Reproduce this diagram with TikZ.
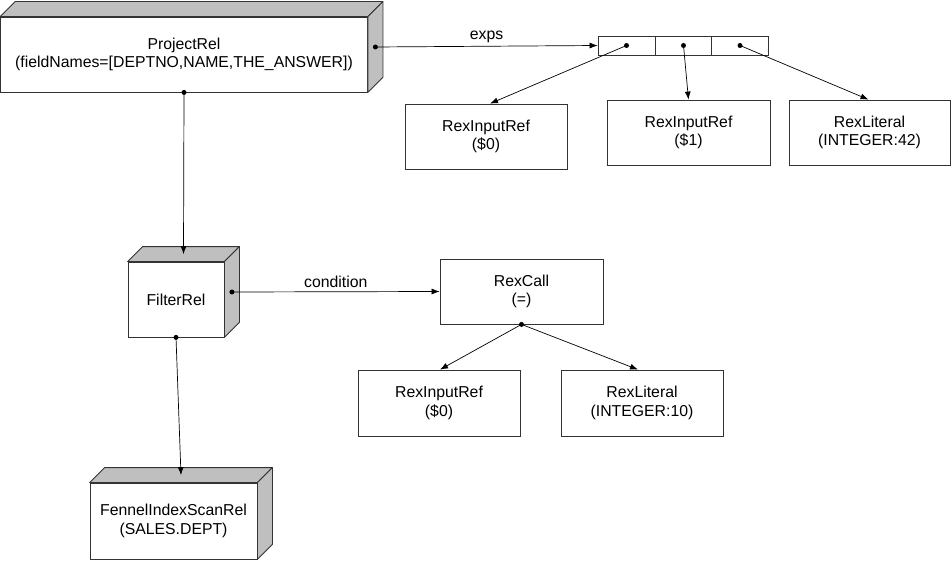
\documentclass[tikz,border=0pt]{standalone}
\usepackage{fontspec}
\setmainfont{Liberation Sans}
\usetikzlibrary{calc,arrows.meta}
\tikzset{
  front/.style={draw=black!80, fill=white, line width=0.8pt, align=center, inner sep=0pt, font=\fontsize{15.8}{18.5}\selectfont},
  plain/.style={draw=black!80, fill=white, line width=0.8pt, align=center, inner sep=0pt, font=\fontsize{15.8}{18.5}\selectfont},
  cell/.style={draw=black!80, fill=white, line width=0.8pt, minimum width=57pt, minimum height=19pt, inner sep=0pt},
  face/.style={draw=black!80, fill=black!25, line width=0.8pt, line join=round},
  conn/.style={draw=black, line width=0.7pt, -{Latex[length=8pt,width=6pt]}},
  dot/.style={circle, fill=black, inner sep=0pt, minimum size=5pt},
  lbl/.style={font=\fontsize{15.8}{18.5}\selectfont}
}
\newcommand{\cubefaces}[2]{%
  \path[face] (#1.north west) -- ++(#2,-#2) -- ($(#1.north east)+(#2,-#2)$) -- (#1.north east) -- cycle;
  \path[face] (#1.north east) -- ++(#2,-#2) -- ($(#1.south east)+(#2,-#2)$) -- (#1.south east) -- cycle;
}
\begin{document}
\begin{tikzpicture}[x=1pt,y=-1pt]
\useasboundingbox (0,0) rectangle (952,561);
% 3D boxes
\node[front, minimum width=367pt, minimum height=75pt] (proj) at (184,54.5) {ProjectRel\\(fieldNames=[DEPTNO,NAME,THE\_ANSWER])};
\cubefaces{proj}{15}
\node[front, minimum width=96pt, minimum height=75pt] (filt) at (176,299.5) {FilterRel};
\cubefaces{filt}{15}
\node[front, minimum width=167pt, minimum height=76pt] (scan) at (173.5,521) {FennelIndexScanRel\\(SALES.DEPT)};
\cubefaces{scan}{15}
% anchors on the 3D boxes
\coordinate (projR) at ($(proj.east)+(7.5,-7.5)$);
\coordinate (projB) at (proj.south);
\coordinate (filtT) at ($(filt.north)+(7.5,-7.5)$);
\coordinate (filtR) at ($(filt.east)+(7.5,-7.5)$);
\coordinate (filtB) at (filt.south);
\coordinate (scanT) at ($(scan.north)+(7.5,-7.5)$);
% array cells
\node[cell] (c1) at (626.5,45.5) {};
\node[cell] (c2) at (683.5,45.5) {};
\node[cell] (c3) at (740,45.5) {};
% plain boxes
\node[plain, minimum width=162pt, minimum height=65pt] (ref0) at (486,136.5) {RexInputRef\\(\$0)};
\node[plain, minimum width=163pt, minimum height=65pt] (ref1) at (688.5,132.5) {RexInputRef\\(\$1)};
\node[plain, minimum width=161pt, minimum height=65pt] (lit42) at (869.5,132.5) {RexLiteral\\(INTEGER:42)};
\node[plain, minimum width=163pt, minimum height=65pt] (call) at (521.5,291.5) {RexCall\\(=)};
\node[plain, minimum width=162pt, minimum height=66pt] (ref0b) at (439,403) {RexInputRef\\(\$0)};
\node[plain, minimum width=162pt, minimum height=66pt] (lit10) at (642,403) {RexLiteral\\(INTEGER:10)};
% connectors
\draw[conn] (projR) -- (c1.west) node[midway, above=0pt, lbl] (exps) {exps};
\draw[conn] (projB) -- (filtT);
\draw[conn] (filtR) -- (call.west) node[midway, above=0pt, lbl] (cond) {condition};
\draw[conn] (filtB) -- (scanT);
\draw[conn] (c1.center) -- ($(ref0.north)+(4,0)$);
\draw[conn] (c2.center) -- (ref1.north);
\draw[conn] (c3.center) -- ($(lit42.north)+(-1,0)$);
\draw[conn] (call.south) -- ($(ref0b.north)+(1,0)$);
\draw[conn] (call.south) -- ($(lit10.north)+(-4,0)$);
% dots
\node[dot] at (projR) {};
\node[dot] at (projB) {};
\node[dot] at (filtR) {};
\node[dot] at (filtB) {};
\node[dot] at (c1.center) {};
\node[dot] at (c2.center) {};
\node[dot] at (c3.center) {};
\node[dot] at (call.south) {};
\end{tikzpicture}
\end{document}
